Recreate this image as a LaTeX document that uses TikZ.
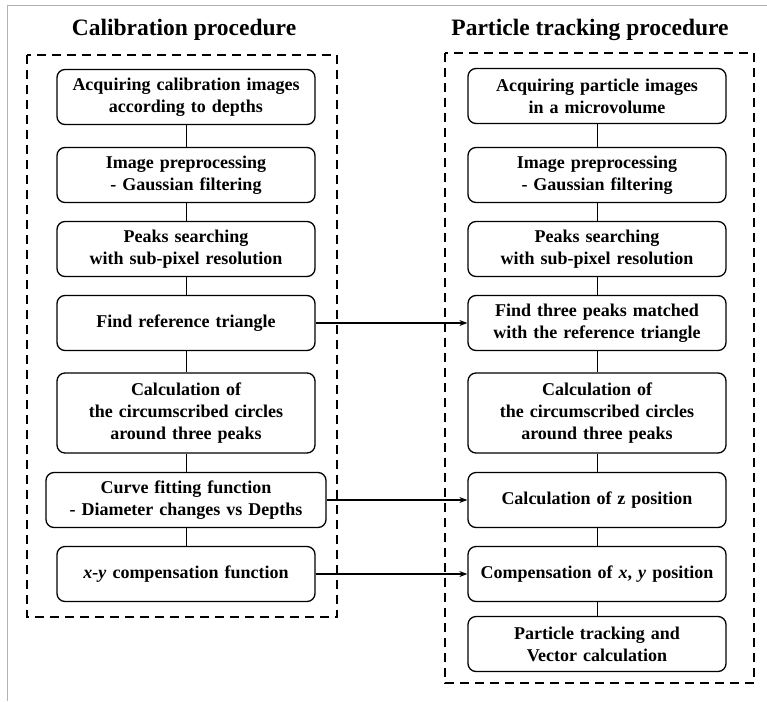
\documentclass[tikz,border=0pt]{standalone}
\usepackage{fontspec}
\setmainfont{Liberation Serif}
\usetikzlibrary{arrows.meta}

\tikzset{%
  procbox/.style={
    draw,
    rounded corners=8pt,
    line width=1.3pt,
    align=center,
    text width=240pt,
    inner xsep=9pt,
    minimum height=55pt,
    font=\bfseries\fontsize{18}{22}\selectfont
  },
  procbox tall/.style={
    minimum height=80pt
  },
  procbox wide/.style={
    text width=262pt
  },
  procframe/.style={
    draw,
    line width=2.8pt,
    dash pattern=on 9pt off 6pt
  },
  proctitle/.style={
    anchor=base,
    font=\bfseries\fontsize{23.5}{28}\selectfont
  },
}

\begin{document}
\begin{tikzpicture}[x=1pt, y=-1pt, >={Stealth[length=8pt,width=6pt]}]

            \useasboundingbox (0,0) rectangle (767,701);
            \draw [gray!60, line width=0.6pt] (767,5) -- (7,5) -- (7,701);

            \node [proctitle] (calib-title) at (184,36) {Calibration procedure};
            \node [proctitle] (track-title) at (590,36) {Particle tracking procedure};

            \draw [procframe] (27,55) rectangle (337,617);
            \draw [procframe] (445,53) rectangle (754,683);

            \foreach \m/\y/\t [count=\i] in {
                plain/97/{Acquiring calibration images\\according to depths},
                plain/175/{Image preprocessing\\- Gaussian filtering},
                plain/249/{Peaks searching\\with sub-pixel resolution},
                plain/323/{Find reference triangle},
                tall/413/{Calculation of\\the circumscribed circles\\around three peaks},
                wide/500/{Curve fitting function\\- Diameter changes vs Depths},
                plain/574/{\textit{x-y} compensation function}}
              \node [procbox, procbox \m/.try] (calib-\i) at (186,\y) {\t};

            \foreach \m/\y/\t [count=\i] in {
                plain/96/{Acquiring particle images\\in a microvolume},
                plain/175/{Image preprocessing\\- Gaussian filtering},
                plain/249/{Peaks searching\\with sub-pixel resolution},
                plain/323/{Find three peaks matched\\with the reference triangle},
                tall/413/{Calculation of\\the circumscribed circles\\around three peaks},
                plain/500/{Calculation of z position},
                plain/574/{Compensation of \textit{x}, \textit{y} position},
                plain/644/{Particle tracking and\\Vector calculation}}
              \node [procbox, procbox \m/.try] (track-\i) at (597,\y) {\t};

            \foreach \i [count=\j from 2] in {1,...,6}
              \draw [line width=1pt] (calib-\i) -- (calib-\j);

            \foreach \i [count=\j from 2] in {1,...,7}
              \draw [line width=1pt] (track-\i) -- (track-\j);

            \foreach \i in {4,6,7}
              \draw [->, line width=1.1pt] (calib-\i) -- (track-\i);

        \end{tikzpicture}
\end{document}
